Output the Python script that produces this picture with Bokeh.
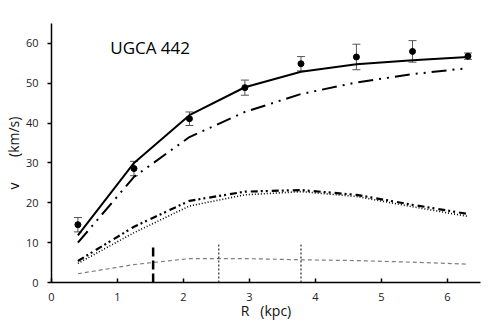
from bokeh.plotting import figure
from bokeh.models import Range1d, Whisker, ColumnDataSource, Label, FixedTicker, TeeHead
from bokeh.embed import file_html
from bokeh.resources import INLINE

# Observed rotation curve
R_obs = [0.40, 1.25, 2.09, 2.93, 3.78, 4.62, 5.47, 6.31]
V_obs = [14.5, 28.6, 41.1, 48.9, 54.9, 56.6, 58.0, 56.8]
E_obs = [1.8, 1.8, 1.7, 1.9, 1.8, 3.2, 2.7, 0.8]

# Model components (same radii)
R_mod = [0.40, 1.25, 2.09, 2.93, 3.78, 4.62, 5.47, 6.31]
V_total = [11.8, 30.0, 42.0, 49.0, 52.9, 54.8, 55.8, 56.6]
V_halo = [10.0, 26.5, 36.5, 42.8, 47.3, 50.2, 52.3, 53.8]
V_bary = [5.4, 14.0, 20.5, 22.8, 23.2, 22.0, 19.5, 17.2]
V_gas = [4.8, 12.5, 19.2, 22.0, 22.8, 21.6, 19.0, 16.6]
V_star = [2.2, 4.5, 6.0, 6.0, 5.7, 5.5, 5.1, 4.6]

# Vertical markers
R_mark_thick = [1.54]
V_mark_thick = [8.8]
R_mark_thin = [2.535, 3.78]
V_mark_thin = [9.5, 9.5]

x_ticks = [0, 1, 2, 3, 4, 5, 6]
y_ticks = [0, 10, 20, 30, 40, 50, 60]

FONT = "Open Sans"
NB = "\u00a0"

p = figure(width=495, height=323, output_backend="svg", toolbar_location=None,
           x_range=Range1d(0, 6.5), y_range=Range1d(0, 65),
           min_border_left=51, min_border_right=15, min_border_top=23, min_border_bottom=41)
p.outline_line_color = None
p.xgrid.visible = False
p.ygrid.visible = False
p.background_fill_color = "white"

# axes
for ax in (p.xaxis[0], p.yaxis[0]):
    ax.axis_line_color = "black"
    ax.axis_line_width = 1.5
    ax.major_tick_line_color = "black"
    ax.major_tick_line_width = 1.5
    ax.minor_tick_line_color = None
    ax.major_label_text_font = FONT
    ax.major_label_text_font_size = "11px"
    ax.major_label_text_color = "#222222"
    ax.axis_label_text_font = FONT
    ax.axis_label_text_font_size = "14px"
    ax.axis_label_text_font_style = "normal"
    ax.axis_label_text_color = "#111111"

p.xaxis.ticker = FixedTicker(ticks=x_ticks)
p.yaxis.ticker = FixedTicker(ticks=y_ticks)
p.xaxis.major_tick_in = 4
p.xaxis.major_tick_out = 0
p.yaxis.major_tick_in = 0
p.yaxis.major_tick_out = 4
p.xaxis.major_label_standoff = 10
p.yaxis.major_label_standoff = 9
p.xaxis.axis_label = "R" + NB * 3 + "(kpc)"
p.yaxis.axis_label = "v" + NB * 7 + "(km/s)"
p.xaxis.axis_label_standoff = -3
p.yaxis.axis_label_standoff = 0

# model curves
p.line(R_mod, V_star, line_color="#7f7f7f", line_width=1.2, line_dash="4 3")
p.line(R_mod, V_gas, line_color="black", line_width=1.6, line_dash="1 2")
p.line(R_mod, V_bary, line_color="black", line_width=2.2, line_dash="7 3 2 3 2 4")
p.line(R_mod, V_halo, line_color="black", line_width=2.0, line_dash="15 6 2 6 2 6")
p.line(R_mod, V_total, line_color="black", line_width=2.0)

# vertical markers
p.segment(x0=R_mark_thick, y0=[0] * len(R_mark_thick), x1=R_mark_thick, y1=V_mark_thick,
          line_color="black", line_width=2.5, line_dash="9 4")
p.segment(x0=R_mark_thin, y0=[0] * len(R_mark_thin), x1=R_mark_thin, y1=V_mark_thin,
          line_color="black", line_width=1, line_dash="2 2")

# observed points with error bars
src = ColumnDataSource(dict(x=R_obs, y=V_obs,
                            lo=[v - e for v, e in zip(V_obs, E_obs)],
                            hi=[v + e for v, e in zip(V_obs, E_obs)]))
w = Whisker(source=src, base="x", upper="hi", lower="lo", line_color="#555555", line_width=1,
            upper_head=TeeHead(size=8, line_color="#555555", line_width=1),
            lower_head=TeeHead(size=8, line_color="#555555", line_width=1))
p.add_layout(w)
p.scatter("x", "y", source=src, size=6, color="black")

title = Label(x=0.89, y=59.1, text="UGCA 442", text_font=FONT, text_font_size="17px",
              text_color="black", text_baseline="alphabetic")
p.add_layout(title)

open("out.html", "w").write(file_html(p, INLINE))
